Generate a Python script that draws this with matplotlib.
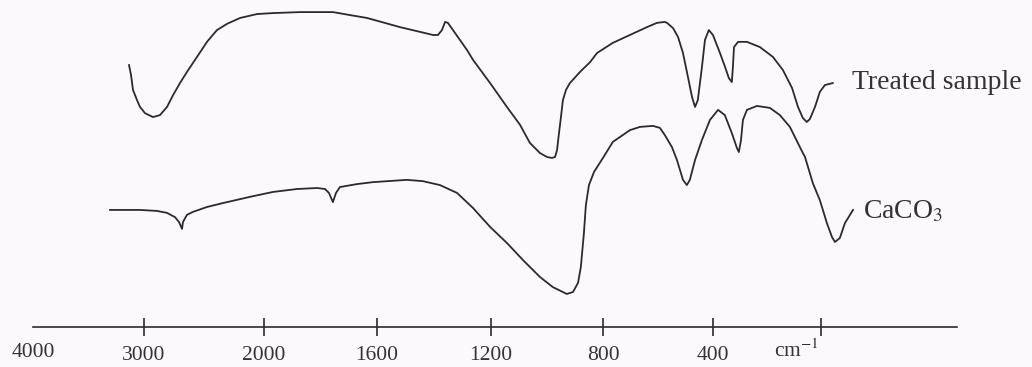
import matplotlib
matplotlib.use('Agg')
import matplotlib.pyplot as plt
import numpy as np

plt.rcParams['font.family'] = 'Liberation Serif'
plt.rcParams['mathtext.fontset'] = 'stix'

# printed axis: ticks and labels
tick_wn = [3000, 2000, 1600, 1200, 800, 400, 0]
tick_labels = ['3000', '2000', '1600', '1200', '800', '400', '']

# spectra (wavenumber, transmittance in arbitrary %)
treated_wn = [3135, 3117, 3099, 3063, 3036, 2992, 2925, 2867, 2808, 2758, 2700, 2642,
              2558, 2475, 2392, 2308, 2200, 2058, 1968, 1873, 1756, 1696, 1635, 1519,
              1403, 1386, 1372, 1361, 1351, 1284, 1263, 1203, 1143, 1096, 1061, 1025,
              1000, 982, 971, 964, 957, 950, 943, 932, 918, 882, 846, 821, 764, 702,
              640, 604, 575, 567, 545, 527, 509, 491, 476, 465, 455, 440, 429, 415,
              400, 374, 355, 341, 330, 326, 322, 307, 274, 226, 178, 141, 107, 85,
              67, 52, 41, 22, 4, -15, -44]
treated_t = [80.1, 77.1, 72.5, 69.4, 67.3, 65.4, 64.2, 64.8, 67.3, 70.9, 74.6, 78.0,
             82.6, 87.2, 90.8, 92.7, 94.5, 95.7, 96.0, 96.3, 96.3, 95.4, 94.5, 91.7,
             89.3, 89.3, 90.8, 93.3, 93.0, 84.7, 81.7, 74.6, 67.3, 61.8, 56.3, 53.2,
             52.0, 51.7, 52.0, 54.1, 59.3, 64.2, 69.4, 72.5, 74.6, 78.0, 81.0, 83.8,
             86.9, 89.3, 91.7, 93.0, 93.3, 93.0, 91.4, 88.7, 83.8, 76.5, 70.3, 67.3,
             69.4, 79.5, 87.8, 90.8, 89.3, 83.8, 79.5, 76.1, 74.9, 79.5, 85.6, 87.2,
             87.2, 85.6, 82.6, 78.6, 73.1, 67.3, 63.9, 62.7, 63.6, 67.3, 71.9, 74.0, 74.6]

caco3_wn = [3306, 3036, 2892, 2808, 2742, 2708, 2683, 2675, 2642, 2592, 2475, 2342,
            2117, 1968, 1883, 1812, 1784, 1770, 1756, 1745, 1731, 1671, 1614, 1495,
            1439, 1379, 1319, 1263, 1203, 1143, 1086, 1025, 979, 929, 907, 889, 879,
            868, 861, 850, 832, 800, 764, 702, 665, 618, 593, 575, 549, 531, 509, 495,
            484, 465, 440, 411, 381, 356, 330, 311, 304, 296, 289, 274, 237, 189, 152,
            115, 67, 59, 30, 4, -22, -41, -52, -70, -89, -119]
caco3_t = [35.8, 35.8, 35.5, 34.9, 33.6, 32.1, 30.0, 32.1, 34.3, 35.2, 36.7, 37.9,
           39.8, 41.3, 42.2, 42.5, 42.2, 41.0, 38.2, 41.0, 42.8, 43.7, 44.3, 45.0,
           44.6, 43.4, 41.0, 36.4, 30.6, 25.7, 20.5, 15.3, 12.2, 10.1, 10.7, 13.5, 18.3,
           28.7, 37.3, 43.4, 47.4, 51.7, 56.6, 60.2, 61.2, 61.5, 60.9, 58.7, 55.0, 51.1,
           45.0, 43.4, 45.0, 51.1, 57.2, 63.3, 66.4, 64.8, 59.3, 54.7, 53.5, 57.2, 63.3,
           66.4, 67.6, 67.0, 64.8, 61.2, 53.2, 52.0, 44.0, 38.8, 31.8, 27.5, 26.0, 27.2,
           31.8, 35.8]

# the scale of the printed axis is piecewise linear (increasing in wavenumber,
# then the axis is inverted by the limits)
knot_wn = np.array([-1000, 0, 400, 800, 1200, 1600, 2000, 3000, 4000, 5000])
knot_pos = -np.array([1091, 821, 713, 603, 491, 377, 264, 144, 33, -78])


def forward(w):
    return np.interp(w, knot_wn, knot_pos)


def inverse(p):
    return np.interp(p, knot_pos, knot_wn)


ink = '#2b2b2b'
bg = '#fcf9fc'

fig = plt.figure(figsize=(10.32, 3.67), dpi=100, facecolor=bg)
ax = fig.add_axes([33 / 1032, 40 / 367, 924 / 1032, 327 / 367])
ax.set_facecolor(bg)

ax.plot(treated_wn, treated_t, color=ink, lw=1.3, solid_joinstyle='round')
ax.plot(caco3_wn, caco3_t, color=ink, lw=1.3, solid_joinstyle='round')

ax.set_xscale('function', functions=(forward, inverse))
ax.set_xlim(4000, -504)
ax.set_ylim(0, 100)

for s in ['top', 'right', 'left']:
    ax.spines[s].set_visible(False)
ax.spines['bottom'].set_color(ink)
ax.spines['bottom'].set_linewidth(1.2)
ax.set_yticks([])
ax.set_xticks(tick_wn)
ax.set_xticklabels(tick_labels)
ax.xaxis.set_minor_locator(matplotlib.ticker.NullLocator())
ax.tick_params(axis='x', direction='inout', length=13, width=1.2, color=ink,
               labelsize=15.5, labelcolor='#333333', pad=7)

ax.text(4000, -9.2, '4000', ha='center', va='baseline', fontsize=15.5, color='#333333')
ax.text(90, -9.2, 'cm$^{-1}$', ha='center', va='baseline', fontsize=15.5, color='#333333')

ax.text(-115, 74.9, 'Treated sample', ha='left', va='center', fontsize=20, color='#333333')
ax.text(-156, 35.2, 'CaCO$_3$', ha='left', va='center', fontsize=20, color='#333333')

fig.savefig('out.png', dpi=100, facecolor=bg)
